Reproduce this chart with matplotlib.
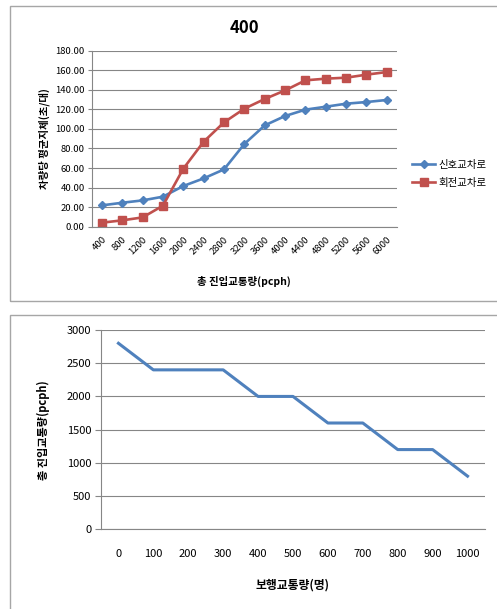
import matplotlib
matplotlib.use("Agg")
import matplotlib.pyplot as plt
from matplotlib.patches import Rectangle
from matplotlib.ticker import FormatStrFormatter

plt.rcParams['font.family'] = ['Noto Sans CJK KR', 'DejaVu Sans']

# Top chart data
volumes = ["400", "800", "1200", "1600", "2000", "2400", "2800", "3200",
           "3600", "4000", "4400", "4800", "5200", "5600", "6000"]
signal_delay = [21.8, 24.5, 26.9, 30.7, 41.6, 49.4, 58.6, 84.6,
                103.6, 113.2, 119.7, 122.7, 125.8, 127.5, 129.6]
roundabout_delay = [4.1, 6.5, 9.5, 21.5, 59.3, 86.9, 106.7, 120.7,
                    130.6, 139.4, 149.7, 151.4, 152.4, 155.5, 158.2]
top_title = "400"
series_names = ["신호교차로", "회전교차로"]

# Bottom chart data
ped_volumes = ["0", "100", "200", "300", "400", "500", "600", "700", "800", "900", "1000"]
entry_volume = [2800, 2400, 2400, 2400, 2000, 2000, 1600, 1600, 1200, 1200, 800]

W, H = 497, 609
fig = plt.figure(figsize=(W / 100, H / 100), dpi=100)

def ax_px(l, t, r, b):
    return fig.add_axes([l / W, 1 - b / H, (r - l) / W, (b - t) / H])

# Panel borders
for (l, t, r, b) in [(10, 6, 500, 301), (10, 315, 500, 612)]:
    fig.patches.append(Rectangle((l / W, 1 - b / H), (r - l) / W, (b - t) / H,
                                 transform=fig.transFigure, fill=False,
                                 edgecolor='#a6a6a6', linewidth=1.0))

grid_c = '#868686'
blue = '#4F81BD'
red = '#C0504D'

# ---------- Top chart ----------
ax1 = ax_px(91.7, 50.7, 397, 226.7)
x1 = list(range(len(volumes)))
ax1.plot(x1, signal_delay, color=blue, lw=1.9, marker='D', ms=4,
         label=series_names[0])
ax1.plot(x1, roundabout_delay, color=red, lw=1.9, marker='s', ms=5.5,
         label=series_names[1])
ax1.set_xlim(-0.5, len(volumes) - 0.5)
ax1.set_ylim(0, 180)
ax1.set_yticks(range(0, 181, 20))
ax1.yaxis.set_major_formatter(FormatStrFormatter('%.2f'))
ax1.set_xticks(x1)
ax1.set_xticklabels(volumes, rotation=45, ha='right', rotation_mode='anchor')
ax1.tick_params(axis='x', length=0, labelsize=6.8, pad=6)
ax1.tick_params(axis='y', length=3, color=grid_c, labelsize=6.8, pad=2)
ax1.grid(axis='y', color=grid_c, lw=0.8)
ax1.set_axisbelow(True)
for s in ['top', 'right']:
    ax1.spines[s].set_visible(False)
ax1.spines['left'].set_color(grid_c)
ax1.spines['bottom'].set_color(grid_c)
ax1.set_title(top_title, fontsize=12, fontweight='bold', pad=13)
ax1.set_xlabel("총 진입교통량(pcph)", fontsize=7.5, fontweight='bold', labelpad=14)
ax1.set_ylabel("차량당 평균지체(초/대)", fontsize=7.5, fontweight='bold', labelpad=4)
leg = ax1.legend(loc='center left', bbox_to_anchor=(1.02, 0.30), frameon=False,
                 fontsize=7.5, handlelength=2.2, handletextpad=0.3, labelspacing=0.8)

# ---------- Bottom chart ----------
ax2 = ax_px(101, 330, 485, 529.3)
x2 = list(range(len(ped_volumes)))
ax2.plot(x2, entry_volume, color=blue, lw=2.2)
ax2.set_xlim(-0.5, len(ped_volumes) - 0.5)
ax2.set_ylim(0, 3000)
ax2.set_yticks(range(0, 3001, 500))
ax2.set_xticks(x2)
ax2.set_xticklabels(ped_volumes)
ax2.tick_params(axis='x', length=0, labelsize=8, pad=14)
ax2.tick_params(axis='y', length=4, color=grid_c, labelsize=8, pad=3)
ax2.grid(axis='y', color=grid_c, lw=0.8)
ax2.set_axisbelow(True)
for s in ['top', 'right']:
    ax2.spines[s].set_visible(False)
ax2.spines['left'].set_color(grid_c)
ax2.spines['bottom'].set_color(grid_c)
ax2.set_xlabel("보행교통량(명)", fontsize=8.5, fontweight='bold', labelpad=14)
ax2.set_ylabel("총 진입교통량(pcph)", fontsize=8, fontweight='bold', labelpad=12)

fig.savefig("out.png", dpi=100)
